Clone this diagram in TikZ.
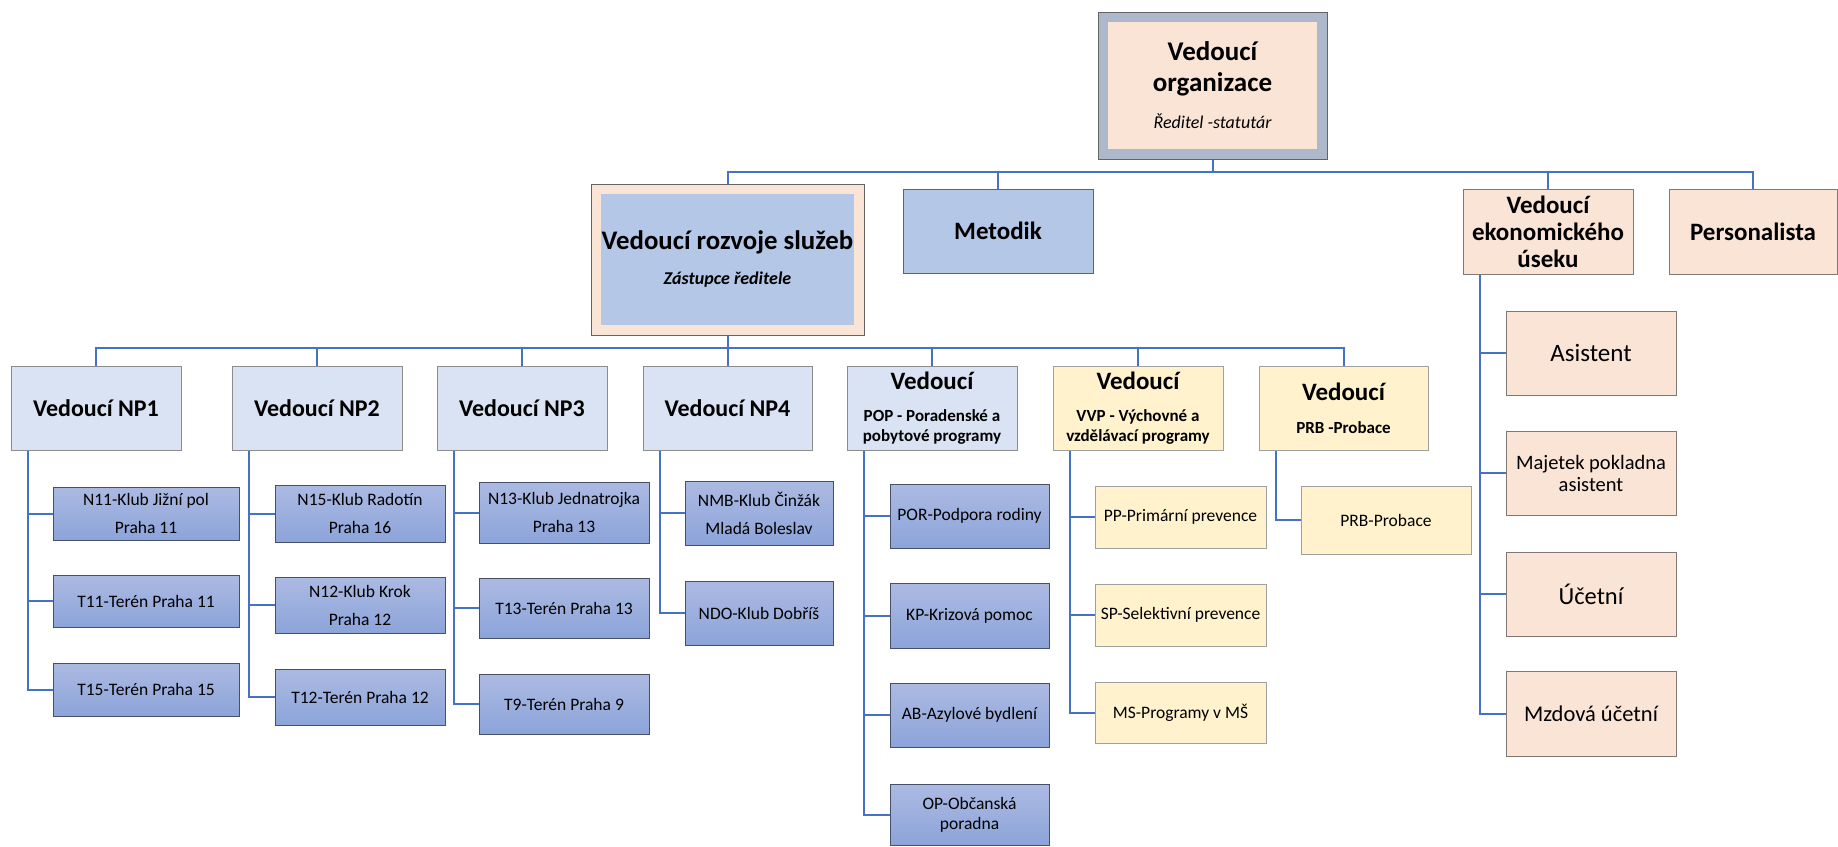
\documentclass[tikz,border=0pt]{standalone}
\usepackage{fontspec}
\setmainfont{Carlito}
\usetikzlibrary{calc}
\definecolor{connblue}{HTML}{4472C4}
\definecolor{peach}{RGB}{250,228,214}
\definecolor{peachedge}{RGB}{130,120,115}
\definecolor{topframe}{HTML}{ADB9CA}
\definecolor{edgegray}{RGB}{100,100,100}
\definecolor{lblue}{HTML}{B4C7E7}
\definecolor{nplight}{HTML}{DAE3F3}
\definecolor{npgray}{RGB}{140,140,140}
\definecolor{kidtop}{RGB}{172,186,226}
\definecolor{kidbot}{RGB}{140,164,218}
\definecolor{kidedge}{RGB}{70,80,105}
\definecolor{ylw}{HTML}{FFF2CC}
\definecolor{ylwedge}{RGB}{160,160,160}
\tikzset{
  base/.style={inner sep=1pt, align=center, text=black},
  conn/.style={draw=connblue, line width=2pt},
  npbox/.style={base, draw=npgray, fill=nplight, line width=1pt, font=\fontsize{24}{28}\selectfont\bfseries},
  kidbox/.style={base, draw=kidedge, top color=kidtop, bottom color=kidbot, line width=1pt, font=\fontsize{17.5}{28}\selectfont},
  ylwhead/.style={base, draw=ylwedge, fill=ylw, line width=1pt, font=\fontsize{17}{20}\selectfont\bfseries},
  ylwkid/.style={base, draw=ylwedge, fill=ylw, line width=1pt, font=\fontsize{17.5}{22}\selectfont},
  peachbox/.style={base, draw=peachedge, fill=peach, line width=1pt},
}
\newcommand\orgbox[7]{\node[#6, minimum width={(#4-#2)*1pt}, minimum height={(#5-#3)*1pt}] (#1) at ({(#2+#4)/2},{-(#3+#5)/2}) {#7};}
\begin{document}
\begin{tikzpicture}[x=1pt,y=1pt]
\useasboundingbox[fill=white] (0,0) rectangle (1838,-846);
% top
\orgbox{topo}{1098}{12}{1327}{159}{base, draw=edgegray, fill=topframe, line width=1pt}{}
\orgbox{top}{1108}{22}{1317}{149}{base, fill=peach, inner sep=0pt, font=\fontsize{27}{31}\selectfont\bfseries}{Vedoucí\\organizace\\[6pt]{\fontsize{18}{20}\selectfont\mdseries\itshape Ředitel -statutár}}
% second level
\orgbox{rozvojo}{591}{184}{864}{335}{base, draw=edgegray, fill=peach, line width=1pt}{}
\orgbox{rozvoj}{601}{194}{854}{325}{base, fill=lblue, inner sep=0pt, font=\fontsize{26.8}{32}\selectfont\bfseries}{Vedoucí rozvoje služeb\\[3pt]{\fontsize{18}{20}\selectfont\itshape Zástupce ředitele}}
\orgbox{metodik}{903}{189}{1093}{273}{base, draw=edgegray, fill=lblue, line width=1pt, font=\fontsize{25}{28}\selectfont\bfseries}{Metodik}
\orgbox{econ}{1463}{189}{1633}{274}{peachbox, font=\fontsize{25}{27}\selectfont\bfseries}{Vedoucí\\ekonomického\\úseku}
\orgbox{pers}{1669}{189}{1837}{274}{peachbox, font=\fontsize{25}{27}\selectfont\bfseries}{Personalista}
% economic children
\orgbox{asist}{1506}{311}{1676}{395}{peachbox, font=\fontsize{25}{27}\selectfont}{Asistent}
\orgbox{majetek}{1506}{431}{1676}{515}{peachbox, font=\fontsize{20.5}{22}\selectfont}{Majetek pokladna\\asistent}
\orgbox{ucetni}{1506}{552}{1676}{636}{peachbox, font=\fontsize{24.5}{27}\selectfont}{Účetní}
\orgbox{mzdova}{1506}{671}{1676}{756}{peachbox, font=\fontsize{22.5}{25}\selectfont}{Mzdová účetní}
% NP row
\orgbox{np1}{11}{366}{181}{450}{npbox}{Vedoucí NP1}
\orgbox{np2}{232}{366}{402}{450}{npbox}{Vedoucí NP2}
\orgbox{np3}{437}{366}{607}{450}{npbox}{Vedoucí NP3}
\orgbox{np4}{643}{366}{812}{450}{npbox}{Vedoucí NP4}
\orgbox{pop}{847}{366}{1017}{450}{npbox, font=\fontsize{17}{20}\selectfont\bfseries}{{\fontsize{25}{27}\selectfont Vedoucí}\\[12pt]POP - Poradenské a\\pobytové programy}
\orgbox{vvp}{1053}{366}{1223}{450}{ylwhead}{{\fontsize{25}{27}\selectfont Vedoucí}\\[12pt]VVP - Výchovné a\\vzdělávací programy}
\orgbox{prb}{1259}{366}{1428}{450}{ylwhead}{{\fontsize{25}{27}\selectfont Vedoucí}\\[13pt]PRB -Probace}
% NP1 children
\orgbox{n11}{53}{487}{239}{540}{kidbox}{N11-Klub Jižní pol\\Praha 11}
\orgbox{t11}{53}{575}{239}{627}{kidbox}{T11-Terén Praha 11}
\orgbox{t15}{53}{663}{239}{716}{kidbox}{T15-Terén Praha 15}
% NP2 children
\orgbox{n15}{275}{485}{445}{542}{kidbox}{N15-Klub Radotín\\Praha 16}
\orgbox{n12}{275}{577}{445}{633}{kidbox}{N12-Klub Krok\\Praha 12}
\orgbox{t12}{275}{669}{445}{725}{kidbox}{T12-Terén Praha 12}
% NP3 children
\orgbox{n13}{479}{482}{649}{543}{kidbox}{N13-Klub Jednatrojka\\Praha 13}
\orgbox{t13}{479}{578}{649}{638}{kidbox}{T13-Terén Praha 13}
\orgbox{t9}{479}{674}{649}{734}{kidbox}{T9-Terén Praha 9}
% NP4 children
\orgbox{nmb}{685}{481}{833}{545}{kidbox}{NMB-Klub Činžák\\Mladá Boleslav}
\orgbox{ndo}{685}{581}{833}{645}{kidbox}{NDO-Klub Dobříš}
% POP children
\orgbox{por}{890}{484}{1049}{548}{kidbox}{POR-Podpora rodiny}
\orgbox{kp}{890}{583}{1049}{648}{kidbox}{KP-Krizová pomoc}
\orgbox{ab}{890}{683}{1049}{747}{kidbox}{AB-Azylové bydlení}
\orgbox{op}{890}{784}{1049}{845}{kidbox, font=\fontsize{17.5}{20}\selectfont}{OP-Občanská\\poradna}
% VVP children
\orgbox{pp}{1095}{486}{1266}{548}{ylwkid}{PP-Primární prevence}
\orgbox{sp}{1095}{584}{1266}{646}{ylwkid}{SP-Selektivní prevence}
\orgbox{ms}{1095}{682}{1266}{743}{ylwkid}{MS-Programy v MŠ}
% PRB child
\orgbox{prbk}{1301}{486}{1471}{554}{ylwkid}{PRB-Probace}
% connectors: top level
\coordinate (h1) at (1212.5,-172);
\draw[conn] (topo.south) -- (h1);
\draw[conn] (h1) -| (rozvojo.north);
\draw[conn] (h1) -| (metodik.north);
\draw[conn] (h1) -| (econ.north);
\draw[conn] (h1) -| (pers.north);
% connectors: NP row
\coordinate (h2) at (727.5,-348);
\draw[conn] (rozvojo.south) -- (h2);
\foreach \n in {np1,np2,np3,np4,pop,vvp,prb} {\draw[conn] (h2) -| (\n.north);}
% children connectors
\foreach \p/\c in {np1/n11,np1/t11,np1/t15,np2/n15,np2/n12,np2/t12,np3/n13,np3/t13,np3/t9,np4/nmb,np4/ndo,pop/por,pop/kp,pop/ab,pop/op,vvp/pp,vvp/sp,vvp/ms,prb/prbk,econ/asist,econ/majetek,econ/ucetni,econ/mzdova}
  {\draw[conn] ([xshift=17]\p.south west) |- (\c.west);}
\end{tikzpicture}
\end{document}
